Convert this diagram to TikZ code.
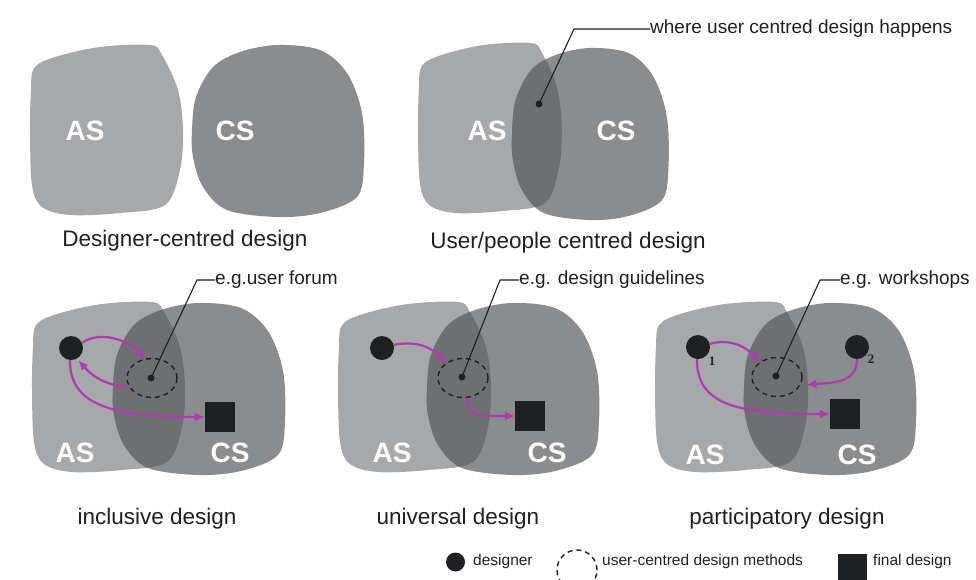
\documentclass[tikz,border=0pt]{standalone}
\usepackage{fontspec}
\setmainfont{Liberation Sans}
\newfontfamily\numfont{Liberation Serif}
\usetikzlibrary{arrows.meta,shapes.geometric}

\definecolor{asgrey}{HTML}{A6A8AA}
\definecolor{csgrey}{HTML}{8B8C8D}
\definecolor{lensgrey}{HTML}{6E6F70}
\definecolor{ink}{HTML}{1E2022}
\definecolor{flow}{HTML}{B03CB0}

% outline of the "AS" region, origin at its top-left corner
\newcommand{\asblob}{plot[smooth cycle, tension=0.55] coordinates {(0,85) (1,45) (4,23) (25,12) (70,2) (120,0) (132,10) (148,45) (153,85) (150,125) (135,160) (90,168) (40,170) (12,162) (2,140)}}
% outline of the "CS" region, origin at its top-left corner
\newcommand{\csblob}{plot[smooth cycle, tension=0.55] coordinates {(0,85) (4,52) (21,22) (48,7) (85,0) (128,5) (155,28) (170,68) (172,118) (165,152) (128,168) (85,172) (35,165) (11,142) (1,112)}}

% AS region at (#1,#2) with x-scale #5, CS region at (#3,#4) with x-scale #6,
% overlap shaded darker
\newcommand{\vennpair}[6]{%
  \fill[asgrey,shift={(#1,#2)},xscale=#5] \asblob;
  \fill[csgrey,shift={(#3,#4)},xscale=#6] \csblob;
  \begin{scope}
    \clip[shift={(#1,#2)},xscale=#5] \asblob;
    \fill[lensgrey,shift={(#3,#4)},xscale=#6] \csblob;
  \end{scope}}

\tikzset{
  setlabel/.style={text=white, font=\fontsize{28}{28}\selectfont\bfseries, inner sep=0pt},
  caption/.style={font=\fontsize{22.5}{24}\selectfont, text=ink, inner sep=0pt},
  tag/.style={font=\fontsize{19}{20}\selectfont, anchor=west, inner sep=0pt, text=ink},
  legendtext/.style={font=\fontsize{15.5}{17}\selectfont, anchor=west, inner sep=0pt, text=ink},
  designer/.style={circle, fill=ink, minimum size=24pt, inner sep=0pt},
  result/.style={rectangle, fill=ink, minimum size=30pt, inner sep=0pt},
  method/.style={ellipse, draw=ink, dash pattern=on 5pt off 4pt, line width=1.4pt,
                 minimum width=50pt, minimum height=39pt, inner sep=0pt},
  hub/.style={circle, fill=ink, minimum size=7pt, inner sep=0pt},
  leader/.style={draw=ink, line width=1.1pt},
  flowarrow/.style={draw=flow, line width=2.2pt, -{Latex[length=10pt,width=9pt]}},
  num/.style={font=\numfont\fontsize{13}{13}\selectfont\bfseries, text=ink, inner sep=0pt},
}

\begin{document}
\begin{tikzpicture}[x=1pt,y=-1pt]
\useasboundingbox (0,0) rectangle (976,579);

% ---------- top row ----------
\vennpair{30}{45}{192}{45}{1}{1}
\node[setlabel] (as1) at (85,131) {AS};
\node[setlabel] (cs1) at (235,131) {CS};
\node[caption] (cap1) at (185,241) {Designer-centred design};

\vennpair{418}{43}{512}{48}{0.94}{0.91}
\node[setlabel] (as2) at (487,131) {AS};
\node[setlabel] (cs2) at (616,131) {CS};
\node[hub] (hub2) at (539,104) {};
\coordinate (k2) at (574,29);
\node[tag] (t2) at (650,29) {where user centred design happens};
\draw[leader] (hub2.center) -- (k2) -- (t2.west);
\node[caption] (cap2) at (568,243) {User/people centred design};

% ---------- inclusive design ----------
\vennpair{32}{302}{113}{303}{1}{1}
\node[setlabel] (as3) at (75,453) {AS};
\node[setlabel] (cs3) at (230,453) {CS};
\node[method] (m3) at (152,378) {};
\node[hub] (hub3) at (151,378) {};
\node[designer] (d3) at (71,348) {};
\node[result] (sq3) at (220,417) {};
\coordinate (k3) at (197,280);
\node[tag] (t3) at (215,280) {e.g.user forum};
\draw[leader] (hub3.center) -- (k3) -- (t3.west);
\draw[flowarrow] (d3.25) .. controls +(20,-14) and +(-14,-16) .. (m3.110);
\draw[flowarrow, shorten >=2pt] (m3.200) .. controls +(-25,0) and +(12,14) .. (d3.-60);
\draw[flowarrow] (d3.-95) .. controls +(0,42) and +(-100,0) .. (sq3.west);
\node[caption] (cap3) at (157,519) {inclusive design};

% ---------- universal design ----------
\vennpair{338}{302}{427}{303}{1}{1}
\node[setlabel] (as4) at (392,453) {AS};
\node[setlabel] (cs4) at (547,453) {CS};
\node[method] (m4) at (463,378) {};
\node[hub] (hub4) at (462,377) {};
\node[designer] (d4) at (382,348) {};
\node[result] (sq4) at (530,416) {};
\coordinate (k4) at (500,280);
\node[tag] (t4) at (519,280) {e.g. design guidelines};
\draw[leader] (hub4.center) -- (k4) -- (t4.west);
\draw[flowarrow] (d4.15) .. controls +(25,-5) and +(-12,-14) .. (m4.140);
\draw[flowarrow] (m4.-80) .. controls +(0,20) and +(-30,0) .. (sq4.west);
\node[caption] (cap4) at (458,519) {universal design};

% ---------- participatory design ----------
\vennpair{655}{302}{744}{303}{1}{1}
\node[setlabel] (as5) at (705,455) {AS};
\node[setlabel] (cs5) at (857,455) {CS};
\node[method] (m5) at (777,377) {};
\node[hub] (hub5) at (776,376) {};
\node[designer] (d51) at (698,347) {};
\node[designer] (d52) at (857,347) {};
\node[num] (n1) at (712,361) {1};
\node[num] (n2) at (871,359) {2};
\node[result] (sq5) at (845,414) {};
\coordinate (k5) at (820,280);
\node[tag] (t5) at (840,280) {e.g. workshops};
\draw[leader] (hub5.center) -- (k5) -- (t5.west);
\draw[flowarrow] (d51.15) .. controls +(22,-6) and +(-12,-14) .. (m5.140);
\draw[flowarrow, shorten >=6pt] (d52.-90) .. controls +(0,25) and +(30,-3) .. (m5.-20);
\draw[flowarrow] (d51.-95) .. controls +(0,45) and +(-95,0) .. (sq5.west);
\node[caption] (cap5) at (787,519) {participatory design};

% ---------- legend ----------
\node[designer, minimum size=19pt] (lgd) at (455.5,562) {};
\node[legendtext] (lgdt) at (473,561) {designer};
\node[method, minimum width=40pt, minimum height=40pt] (lgm) at (577,570) {};
\node[legendtext] (lgmt) at (602,561) {user-centred design methods};
\node[result, minimum size=29pt] (lgr) at (852.5,568) {};
\node[legendtext] (lgrt) at (873,561) {final design};
\end{tikzpicture}
\end{document}
